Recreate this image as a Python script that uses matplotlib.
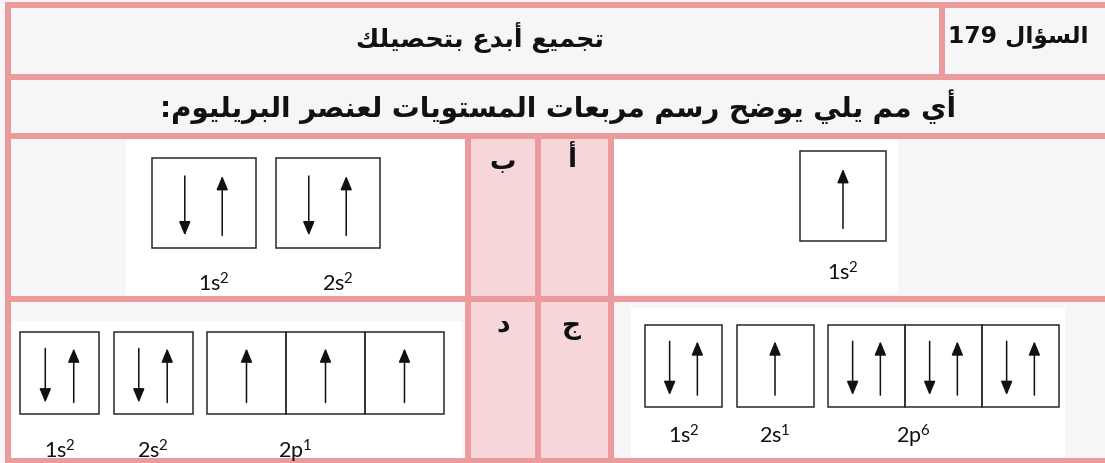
import re
import matplotlib
matplotlib.use("Agg")
import matplotlib.pyplot as plt
from matplotlib.patches import Rectangle

# --- content -------------------------------------------------------------
header_q = "السؤال 179"
header_title = "تجميع أبدع بتحصيلك"
question = "أي مم يلي يوضح رسم مربعات المستويات لعنصر البريليوم:"
option_letters = ["أ", "ب", "ج", "د"]

# orbital boxes per option: 'u' = one up electron, 'du' = paired
a_orbitals = ["1s"]
a_counts = [2]
a_spins = [["u"]]
b_orbitals = ["1s", "2s"]
b_counts = [2, 2]
b_spins = [["du"], ["du"]]
c_orbitals = ["1s", "2s", "2p"]
c_counts = [2, 1, 6]
c_spins = [["du"], ["u"], ["du", "du", "du"]]
d_orbitals = ["1s", "2s", "2p"]
d_counts = [2, 2, 1]
d_spins = [["du"], ["du"], ["u", "u", "u"]]

PINK = "#EB9B9C"
PINK_FILL = "#F7D6D9"
BG = "#F6F6F9"
INK = "#111111"

# --- minimal arabic shaping (matplotlib has no text shaping) -------------
FORMS = {
    "ا": ("\uFE8D", "\uFE8E", None, None),
    "أ": ("\uFE83", "\uFE84", None, None),
    "ؤ": ("\uFE85", "\uFE86", None, None),
    "د": ("\uFEA9", "\uFEAA", None, None),
    "ر": ("\uFEAD", "\uFEAE", None, None),
    "و": ("\uFEED", "\uFEEE", None, None),
    "ب": ("\uFE8F", "\uFE90", "\uFE91", "\uFE92"),
    "ت": ("\uFE95", "\uFE96", "\uFE97", "\uFE98"),
    "ج": ("\uFE9D", "\uFE9E", "\uFE9F", "\uFEA0"),
    "ح": ("\uFEA1", "\uFEA2", "\uFEA3", "\uFEA4"),
    "س": ("\uFEB1", "\uFEB2", "\uFEB3", "\uFEB4"),
    "ص": ("\uFEB9", "\uFEBA", "\uFEBB", "\uFEBC"),
    "ض": ("\uFEBD", "\uFEBE", "\uFEBF", "\uFEC0"),
    "ع": ("\uFEC9", "\uFECA", "\uFECB", "\uFECC"),
    "ك": ("\uFED9", "\uFEDA", "\uFEDB", "\uFEDC"),
    "ل": ("\uFEDD", "\uFEDE", "\uFEDF", "\uFEE0"),
    "م": ("\uFEE1", "\uFEE2", "\uFEE3", "\uFEE4"),
    "ن": ("\uFEE5", "\uFEE6", "\uFEE7", "\uFEE8"),
    "ي": ("\uFEF1", "\uFEF2", "\uFEF3", "\uFEF4"),
}


def shape(text):
    out = []
    for i, ch in enumerate(text):
        if ch not in FORMS:
            out.append(ch)
            continue
        prev = text[i - 1] if i > 0 else ""
        nxt = text[i + 1] if i + 1 < len(text) else ""
        iso, fin, ini, med = FORMS[ch]
        jp = prev in FORMS and FORMS[prev][2] is not None
        jn = ini is not None and nxt in FORMS
        if jp and jn:
            out.append(med)
        elif jp:
            out.append(fin)
        elif jn:
            out.append(ini)
        else:
            out.append(iso)
    runs = re.findall(r"[0-9]+|[^0-9]+", "".join(out))
    return "".join(r if r.isdigit() else r[::-1] for r in reversed(runs))


plt.rcParams["mathtext.fontset"] = "custom"
plt.rcParams["mathtext.rm"] = "Lato"

fig = plt.figure(figsize=(11.05, 4.64), dpi=100)
fig.patch.set_facecolor(BG)
ax = fig.add_axes([0, 0, 1, 1])
ax.set_xlim(0, 1105)
ax.set_ylim(464, 0)
ax.axis("off")

# pasted picture areas are plain white
for x0, y0, x1, y1 in [(126, 139, 466, 297), (612, 139, 898, 294),
                       (631, 309, 1065, 459), (11, 322, 462, 459)]:
    ax.add_patch(Rectangle((x0, y0), x1 - x0, y1 - y0, color="white", lw=0))

# letter columns
ax.add_patch(Rectangle((471, 139), 64, 320, color=PINK_FILL, lw=0))
ax.add_patch(Rectangle((541, 139), 67, 320, color=PINK_FILL, lw=0))

# grid lines
LW = 6
for y in [6, 77.5, 136.5, 300, 462]:
    ax.add_patch(Rectangle((5, y - LW / 2), 1100, LW, color=PINK, lw=0))
ax.add_patch(Rectangle((5, 3), LW, 462, color=PINK, lw=0))
ax.add_patch(Rectangle((942 - LW / 2, 3), LW, 75, color=PINK, lw=0))
for x in [468, 538, 610.5]:
    ax.add_patch(Rectangle((x - LW / 2, 136), LW, 328, color=PINK, lw=0))

# arabic text
ar = dict(family=["DejaVu Sans"], weight="bold", color=INK, ha="center", va="center")
ax.text(1018, 37, shape(header_q), fontsize=16.8, **ar)
ax.text(480, 37, shape(header_title), fontsize=18.3, **ar)
ax.text(558, 107, shape(question), fontsize=20, **ar)
for letter, (lx, ly) in zip(option_letters, [(572, 160), (503, 162), (572, 327), (503, 325)]):
    ax.text(lx, ly, shape(letter), fontsize=19, **ar)


def arrow(x, y_tail, y_tip):
    ax.annotate("", xy=(x, y_tip), xytext=(x, y_tail),
                arrowprops=dict(arrowstyle="-|>,head_length=0.6,head_width=0.25",
                                color=INK, lw=1.1, mutation_scale=14,
                                shrinkA=0, shrinkB=0))


def orbital_diagram(orbitals, counts, spins, x0, y0, w, h, gap, label_y, label_dx=0):
    x = x0
    for name, n, boxes in zip(orbitals, counts, spins):
        gx = x
        for s in boxes:
            ax.add_patch(Rectangle((x, y0), w, h, fill=False, ec="#2a2a2a", lw=1.1))
            top, bot = y0 + 0.2 * h, y0 + 0.86 * h
            if s == "u":
                arrow(x + 0.5 * w, bot, top)
            else:
                arrow(x + 0.32 * w, top, bot)
                arrow(x + 0.68 * w, bot, top)
            x += w
        gw = x - gx
        lx = gx + gw / 2 + label_dx if len(boxes) == 1 else gx + 0.37 * gw
        ax.text(lx, label_y, r"$\mathrm{%s^{%d}}$" % (name, n), fontsize=15.5,
                color=INK, ha="center", va="center")
        x += gap


orbital_diagram(a_orbitals, a_counts, a_spins, 800, 152, 86, 90, 0, 273)
orbital_diagram(b_orbitals, b_counts, b_spins, 151.5, 159, 104, 90, 20, 284, 10)
orbital_diagram(c_orbitals, c_counts, c_spins, 645, 326, 77, 81.5, 14.5, 436)
orbital_diagram(d_orbitals, d_counts, d_spins, 20, 333, 79, 82, 14.5, 451)

fig.savefig("out.png", dpi=100, facecolor=fig.get_facecolor())
